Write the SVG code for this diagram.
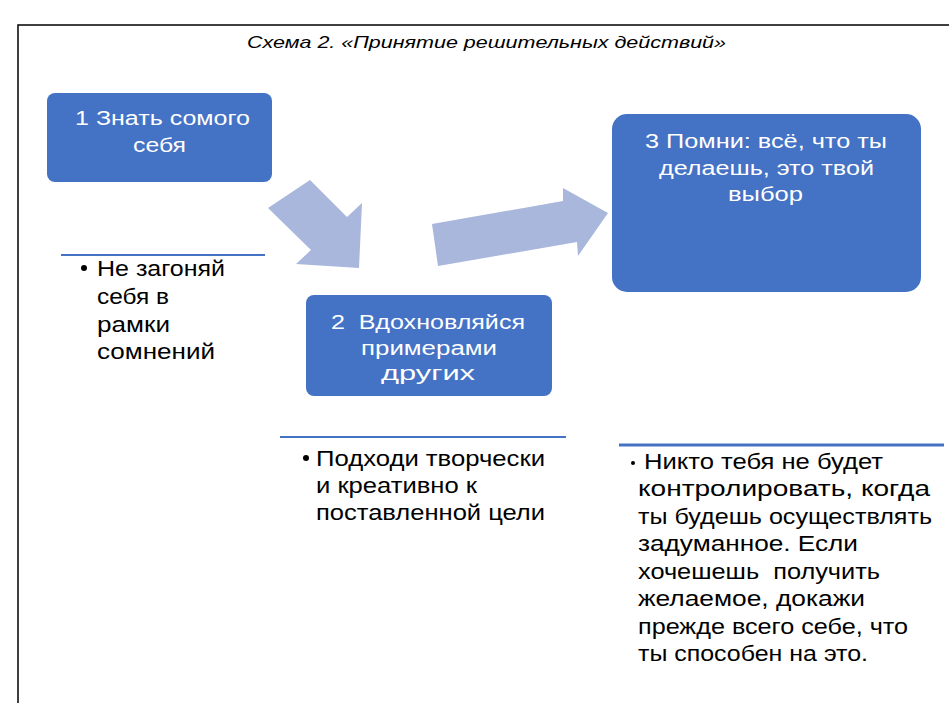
<svg xmlns="http://www.w3.org/2000/svg" width="949" height="703" viewBox="0 0 949 703">
<style>
text{white-space:pre}
.box{fill:#4472C4}
.bt{font-family:"Liberation Sans","DejaVu Sans",sans-serif;font-size:20px;fill:#FFFFFF}
.nt{font-family:"Liberation Sans","DejaVu Sans",sans-serif;font-size:22px;fill:#000000}
.title{font-family:"Liberation Sans","DejaVu Sans",sans-serif;font-size:17px;font-style:italic;fill:#000000}
.rule{stroke:#4472C4;stroke-width:2;fill:none}
.arrow{fill:#AAB7DC}
.frame{stroke:#000000;stroke-width:1.5;fill:none}
</style>
<rect x="0" y="0" width="949" height="703" fill="#FFFFFF"/>
<g id="frame">
<path class="frame" d="M18 703 V25 H949"/>
</g>
<text class="title" x="247" y="48" textLength="479" lengthAdjust="spacingAndGlyphs">Схема 2. «Принятие решительных действий»</text>
<g id="connectors">
<polygon class="arrow" points="268,208 310,180 347,217 362,203 359,268 296,264 311,250"/>
<polygon class="arrow" points="432,224 563,201 563,188 608,213 578,256 577,242 438,266"/>
</g>
<g id="node-1">
<rect class="box" x="47" y="93" width="225" height="89" rx="8"/>
<text class="bt" x="75" y="125" textLength="175" lengthAdjust="spacingAndGlyphs">1 Знать сомого</text>
<text class="bt" x="133" y="152" textLength="53" lengthAdjust="spacingAndGlyphs">себя</text>
</g>
<g id="node-2">
<rect class="box" x="306" y="295" width="246" height="101" rx="8"/>
<text class="bt" x="331" y="329" textLength="194" lengthAdjust="spacingAndGlyphs">2  Вдохновляйся</text>
<text class="bt" x="361" y="355" textLength="136" lengthAdjust="spacingAndGlyphs">примерами</text>
<text class="bt" x="381" y="380" textLength="94" lengthAdjust="spacingAndGlyphs">других</text>
</g>
<g id="node-3">
<rect class="box" x="612" y="114" width="309" height="178" rx="15"/>
<text class="bt" x="645" y="148" textLength="242" lengthAdjust="spacingAndGlyphs">3 Помни: всё, что ты</text>
<text class="bt" x="659" y="175" textLength="215" lengthAdjust="spacingAndGlyphs">делаешь, это твой</text>
<text class="bt" x="728" y="201" textLength="75" lengthAdjust="spacingAndGlyphs">выбор</text>
</g>
<g id="note-1">
<line class="rule" x1="61" y1="255" x2="265" y2="255"/>
<circle cx="84" cy="268" r="3" fill="#000000"/>
<text class="nt" x="97" y="276" textLength="128" lengthAdjust="spacingAndGlyphs">Не загоняй</text>
<text class="nt" x="97" y="304" textLength="72" lengthAdjust="spacingAndGlyphs">себя в</text>
<text class="nt" x="97" y="332" textLength="73" lengthAdjust="spacingAndGlyphs">рамки</text>
<text class="nt" x="97" y="359" textLength="118" lengthAdjust="spacingAndGlyphs">сомнений</text>
</g>
<g id="note-2">
<line class="rule" x1="280" y1="437" x2="566" y2="437"/>
<circle cx="306" cy="458" r="3" fill="#000000"/>
<text class="nt" x="316" y="466" textLength="229" lengthAdjust="spacingAndGlyphs">Подходи творчески</text>
<text class="nt" x="316" y="493" textLength="161" lengthAdjust="spacingAndGlyphs">и креативно к</text>
<text class="nt" x="316" y="520" textLength="229" lengthAdjust="spacingAndGlyphs">поставленной цели</text>
</g>
<g id="note-3">
<line x1="619" y1="445" x2="944" y2="445" stroke="#4472C4" stroke-width="3"/>
<circle cx="633" cy="463" r="2" fill="#000000"/>
<text class="nt" x="644" y="469" textLength="239" lengthAdjust="spacingAndGlyphs">Никто тебя не будет</text>
<text class="nt" x="638" y="496" textLength="292" lengthAdjust="spacingAndGlyphs">контролировать, когда</text>
<text class="nt" x="638" y="524" textLength="294" lengthAdjust="spacingAndGlyphs">ты будешь осуществлять</text>
<text class="nt" x="638" y="551" textLength="220" lengthAdjust="spacingAndGlyphs">задуманное. Если</text>
<text class="nt" x="638" y="579" textLength="242" lengthAdjust="spacingAndGlyphs">хочешешь  получить</text>
<text class="nt" x="638" y="606" textLength="227" lengthAdjust="spacingAndGlyphs">желаемое, докажи</text>
<text class="nt" x="638" y="634" textLength="270" lengthAdjust="spacingAndGlyphs">прежде всего себе, что</text>
<text class="nt" x="638" y="661" textLength="230" lengthAdjust="spacingAndGlyphs">ты способен на это.</text>
</g>
</svg>
